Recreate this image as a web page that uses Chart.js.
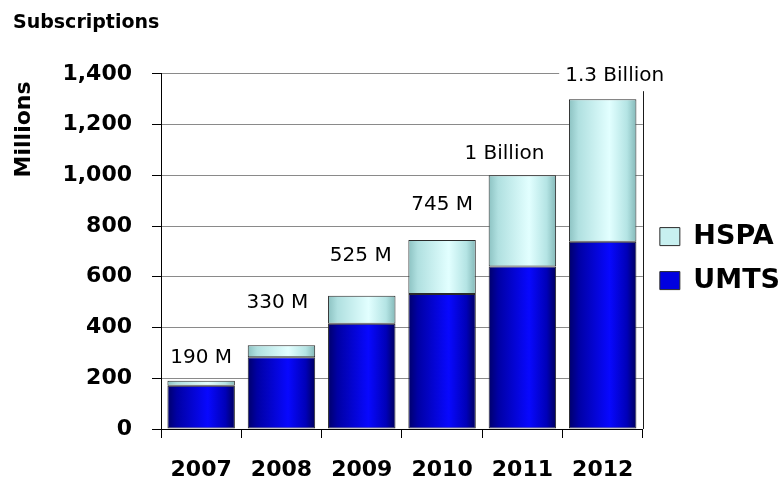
<!DOCTYPE html>
<html>
<head>
<meta charset="utf-8">
<script src="https://cdn.jsdelivr.net/npm/chart.js@4"></script>
<style>
  html, body { margin: 0; padding: 0; background: #ffffff; }
  #wrap { width: 780px; height: 481px; }
</style>
</head>
<body>
<div id="wrap"><canvas id="chart" width="780" height="481"></canvas></div>
<script>
// Subscriptions per year, in millions
const years = ['2007', '2008', '2009', '2010', '2011', '2012'];
const umts = [170, 283, 415, 532, 640, 738];
const hspa = [20, 47, 110, 213, 360, 562];
const totalLabels = ['190 M', '330 M', '525 M', '745 M', '1 Billion', '1.3 Billion'];
const yTicks = [0, 200, 400, 600, 800, 1000, 1200, 1400];

const BAR_PCT = 0.84;

// Horizontal "cylinder" shading for each bar segment
function shaded(stops, solid) {
  return (ctx) => {
    const chart = ctx.chart;
    if (ctx.type !== 'data' || !chart.chartArea) return solid;
    const xs = chart.scales.x;
    const cx = xs.getPixelForValue(ctx.dataIndex);
    const half = (xs.width / years.length) * BAR_PCT / 2;
    const g = chart.ctx.createLinearGradient(cx - half, 0, cx + half, 0);
    stops.forEach(([o, c]) => g.addColorStop(o, c));
    return g;
  };
}

const umtsStops = [[0, '#00006a'], [0.14, '#0000a4'], [0.6, '#0808ff'], [0.86, '#0000b8'], [1, '#00005e']];
const hspaStops = [[0, '#8cc2c2'], [0.14, '#b0e0e0'], [0.6, '#e2ffff'], [0.86, '#b4e4e4'], [1, '#84b8b8']];

// Total labels above each stack, on a white card
const totalsPlugin = {
  id: 'totals',
  afterDatasetsDraw(chart, args, opts) {
    const {ctx, chartArea, scales} = chart;
    // right-hand frame line of the plot
    ctx.save();
    ctx.strokeStyle = '#1a1a1a';
    ctx.lineWidth = 1;
    ctx.beginPath();
    ctx.moveTo(Math.round(chartArea.right) + 0.5, chartArea.top);
    ctx.lineTo(Math.round(chartArea.right) + 0.5, chartArea.bottom);
    ctx.stroke();

    ctx.font = '20px "DejaVu Sans"';
    ctx.textAlign = 'center';
    ctx.textBaseline = 'middle';
    years.forEach((_, i) => {
      const total = umts[i] + hspa[i];
      const [dx, dy] = opts.offsets[i];
      const x = scales.x.getPixelForValue(i) + dx;
      const y = scales.y.getPixelForValue(total) - dy;
      const w = ctx.measureText(totalLabels[i]).width;
      ctx.fillStyle = '#ffffff';
      ctx.fillRect(x - w / 2 - 6, y - 14, w + 12, 30);
      ctx.fillStyle = '#000000';
      ctx.fillText(totalLabels[i], x, y + 1);
    });
    ctx.restore();
  }
};

new Chart(document.getElementById('chart'), {
  type: 'bar',
  data: {
    labels: years,
    datasets: [
      {
        label: 'UMTS',
        data: umts,
        backgroundColor: shaded(umtsStops, '#0000e0'),
        borderColor: '#2a2a2a',
        borderWidth: 1,
        borderSkipped: false,
        barPercentage: BAR_PCT,
        categoryPercentage: 1
      },
      {
        label: 'HSPA',
        data: hspa,
        backgroundColor: shaded(hspaStops, '#c8f0f0'),
        borderColor: '#2a2a2a',
        borderWidth: 1,
        borderSkipped: false,
        barPercentage: BAR_PCT,
        categoryPercentage: 1
      }
    ]
  },
  options: {
    responsive: false,
    animation: false,
    devicePixelRatio: 1,
    layout: { padding: { left: 13, right: -10, top: 0, bottom: 0 } },
    plugins: {
      title: {
        display: true,
        text: 'Subscriptions',
        align: 'start',
        color: '#000000',
        font: { family: 'DejaVu Sans', size: 19, weight: 'bold', lineHeight: 1.2 },
        padding: { top: 12, bottom: 39 }
      },
      legend: {
        position: 'right',
        align: 'center',
        reverse: true,
        fullSize: false,
        title: { display: true, text: '', color: '#000000', padding: 0, font: { size: 12, lineHeight: 1.2 } },
        labels: {
          color: '#000000',
          font: { family: 'DejaVu Sans', size: 27, weight: 'bold' },
          boxWidth: 20,
          boxHeight: 18,
          padding: 17,
          generateLabels: (chart) => [
            { text: 'UMTS', fillStyle: '#0000e0', strokeStyle: '#2a2a2a', fontColor: '#000000', lineWidth: 1, datasetIndex: 0 },
            { text: 'HSPA', fillStyle: '#c8f0f0', strokeStyle: '#2a2a2a', fontColor: '#000000', lineWidth: 1, datasetIndex: 1 }
          ]
        }
      },
      tooltip: { enabled: false },
      totals: { offsets: [[0, 24], [-4, 43], [-1, 41], [0, 36], [-18, 22], [12, 24]] }
    },
    scales: {
      x: {
        stacked: true,
        offset: true,
        grid: { drawOnChartArea: false, drawTicks: true, tickLength: 9, tickColor: '#000000', offset: true },
        border: { color: '#000000', width: 1 },
        ticks: {
          color: '#000000',
          padding: 19,
          font: { family: 'DejaVu Sans', size: 22, weight: 'bold' }
        },
        afterFit: (s) => { s.height = 52; }
      },
      y: {
        stacked: true,
        min: 0,
        max: 1400,
        afterBuildTicks: (s) => { s.ticks = yTicks.map(v => ({ value: v })); },
        grid: { color: '#8a8a8a', tickColor: '#000000', tickLength: 9, lineWidth: 1 },
        border: { color: '#000000', width: 1 },
        ticks: {
          color: '#000000',
          padding: 20,
          font: { family: 'DejaVu Sans', size: 22, weight: 'bold' },
          callback: (v) => v.toLocaleString('en-US')
        },
        title: {
          display: true,
          text: 'Millions ',
          align: 'end',
          color: '#000000',
          font: { family: 'DejaVu Sans', size: 22, weight: 'bold', lineHeight: 1 },
          padding: { top: 0, bottom: 0 }
        },
        afterFit: (s) => { s.width = 148; }
      }
    }
  },
  plugins: [totalsPlugin]
});
</script>
</body>
</html>
